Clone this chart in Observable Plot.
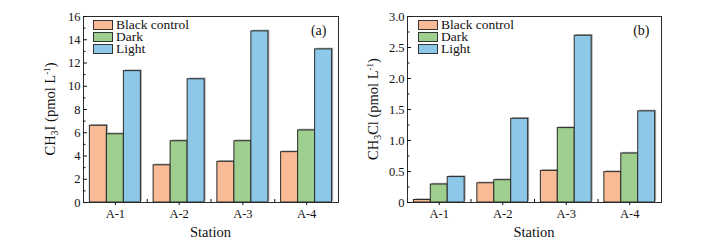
<!DOCTYPE html>
<html>
<head>
<meta charset="utf-8">
<script src="https://cdn.jsdelivr.net/npm/d3@7"></script>
<script src="https://cdn.jsdelivr.net/npm/@observablehq/plot@0.6"></script>
<style>
  html, body { margin: 0; padding: 0; background: #fff; }
  #wrap { position: relative; width: 711px; height: 251px; overflow: hidden; font-family: "Liberation Serif", "Times New Roman", serif; }
  .panel { position: absolute; top: 0; }
  .legend { position: absolute; font-size: 13.5px; color: #111; line-height: 12px; }
  .legend .row { display: flex; align-items: center; height: 12px; }
  .legend .sw { width: 18px; height: 8px; border: 1px solid #333; margin-right: 3px; box-sizing: content-box; }
</style>
</head>
<body>
<div id="wrap"></div>
<script>
const stations = ["A-1", "A-2", "A-3", "A-4"];
const series = ["Black control", "Dark", "Light"];
const colors = ["#F9BB95", "#9FCF8E", "#8EC8E8"];

// Panel (a): CH3I (pmol L-1)
const ch3iBlack = [6.6, 3.2, 3.5, 4.33];
const ch3iDark  = [5.87, 5.27, 5.27, 6.2];
const ch3iLight = [11.3, 10.6, 14.72, 13.17];
const ch3iMajor = [0, 2, 4, 6, 8, 10, 12, 14, 16];
const ch3iMinor = [1, 3, 5, 7, 9, 11, 13, 15];

// Panel (b): CH3Cl (pmol L-1)
const ch3clBlack = [0.04, 0.31, 0.51, 0.49];
const ch3clDark  = [0.29, 0.36, 1.2, 0.79];
const ch3clLight = [0.41, 1.35, 2.69, 1.47];
const ch3clMajor = [0, 0.5, 1.0, 1.5, 2.0, 2.5, 3.0];
const ch3clMinor = [0.25, 0.75, 1.25, 1.75, 2.25, 2.75];

// group layout within each station slot (fraction of a slot)
const groupPad = 0.1;
const barW = (1 - 2 * groupPad) / series.length;

function makePanel({values, yDomain, major, minor, fmt, tag, width, marginLeft, marginRight, left, labelX, labelMain, labelSub, labelRest, legendLeft}) {
  const data = [];
  stations.forEach((s, i) => series.forEach((k, j) => data.push({
    station: s, series: k, value: values[j][i],
    x1: i + groupPad + j * barW, x2: i + groupPad + (j + 1) * barW
  })));
  const centers = stations.map((s, i) => i + 0.5);
  const bounds = stations.slice(1).map((s, i) => i + 1);
  const yb = 251 - 49;
  const plot = Plot.plot({
    width, height: 251,
    marginTop: 16, marginBottom: 49, marginLeft, marginRight,
    style: {fontFamily: "'Liberation Serif', 'Times New Roman', serif", fontSize: "12.5px", color: "#111", background: "transparent", overflow: "visible"},
    x: {domain: [0, stations.length], axis: null},
    y: {domain: yDomain, axis: null},
    color: {domain: series, range: colors},
    marks: [
      Plot.rectY(data, {x1: "x1", x2: "x2", y: "value", fill: "#a8a8a8", dx: 1.5, dy: -1.2}),
      Plot.rectY(data, {x1: "x1", x2: "x2", y: "value", fill: "series", stroke: "#2a2a2a", strokeWidth: 1}),
      Plot.frame({stroke: "#2a2a2a", strokeWidth: 1}),
      Plot.axisY({ticks: major, tickSize: -4, tickPadding: 7, tickFormat: fmt, label: null}),
      Plot.axisY({ticks: minor, tickSize: -2.5, tickFormat: () => "", label: null}),
      Plot.axisX({ticks: centers, tickSize: 3, tickPadding: 4, tickFormat: d => stations[Math.floor(d)], label: null}),
      Plot.axisX({ticks: bounds, tickSize: -3, tickFormat: () => "", label: null}),
      Plot.text([tag], {frameAnchor: "top-right", dx: -12, dy: 9, fontSize: 14, text: d => d})
    ]
  });

  const svg = d3.select(plot);
  // y-axis title with subscript / superscript
  const t = svg.append("text")
    .attr("transform", `translate(${labelX},${(16 + yb) / 2}) rotate(-90)`)
    .attr("text-anchor", "middle")
    .attr("font-size", 14.5)
    .attr("fill", "#111");
  t.append("tspan").text(labelMain);
  t.append("tspan").attr("dy", 3).attr("font-size", 10).text(labelSub);
  t.append("tspan").attr("dy", -3).text(labelRest);
  t.append("tspan").attr("dy", -5).attr("font-size", 9).text("-1");
  t.append("tspan").attr("dy", 5).text(")");
  // x-axis title
  svg.append("text")
    .attr("x", marginLeft + (width - marginLeft - marginRight) / 2)
    .attr("y", 237)
    .attr("text-anchor", "middle")
    .attr("font-size", 14.5)
    .attr("fill", "#111")
    .text("Station");

  const div = document.createElement("div");
  div.className = "panel";
  div.style.left = left + "px";
  div.appendChild(plot);
  const lg = document.createElement("div");
  lg.className = "legend";
  lg.style.left = legendLeft + "px";
  lg.style.top = "19px";
  series.forEach((k, j) => {
    const r = document.createElement("div");
    r.className = "row";
    const sw = document.createElement("span");
    sw.className = "sw";
    sw.style.background = colors[j];
    const tx = document.createElement("span");
    tx.textContent = k;
    r.appendChild(sw); r.appendChild(tx);
    lg.appendChild(r);
  });
  div.appendChild(lg);
  document.getElementById("wrap").appendChild(div);
}

makePanel({
  values: [ch3iBlack, ch3iDark, ch3iLight], yDomain: [0, 16], major: ch3iMajor, minor: ch3iMinor,
  fmt: d => String(d), tag: "(a)", width: 355, marginLeft: 83, marginRight: 17, left: 0,
  labelX: 55, labelMain: "CH", labelSub: "3", labelRest: "I (pmol L", legendLeft: 93
});
makePanel({
  values: [ch3clBlack, ch3clDark, ch3clLight], yDomain: [0, 3], major: ch3clMajor, minor: ch3clMinor,
  fmt: d => d === 0 ? "0" : d.toFixed(1), tag: "(b)", width: 356, marginLeft: 52, marginRight: 50, left: 355,
  labelX: 23, labelMain: "CH", labelSub: "3", labelRest: "Cl (pmol L", legendLeft: 63
});
</script>
</body>
</html>
